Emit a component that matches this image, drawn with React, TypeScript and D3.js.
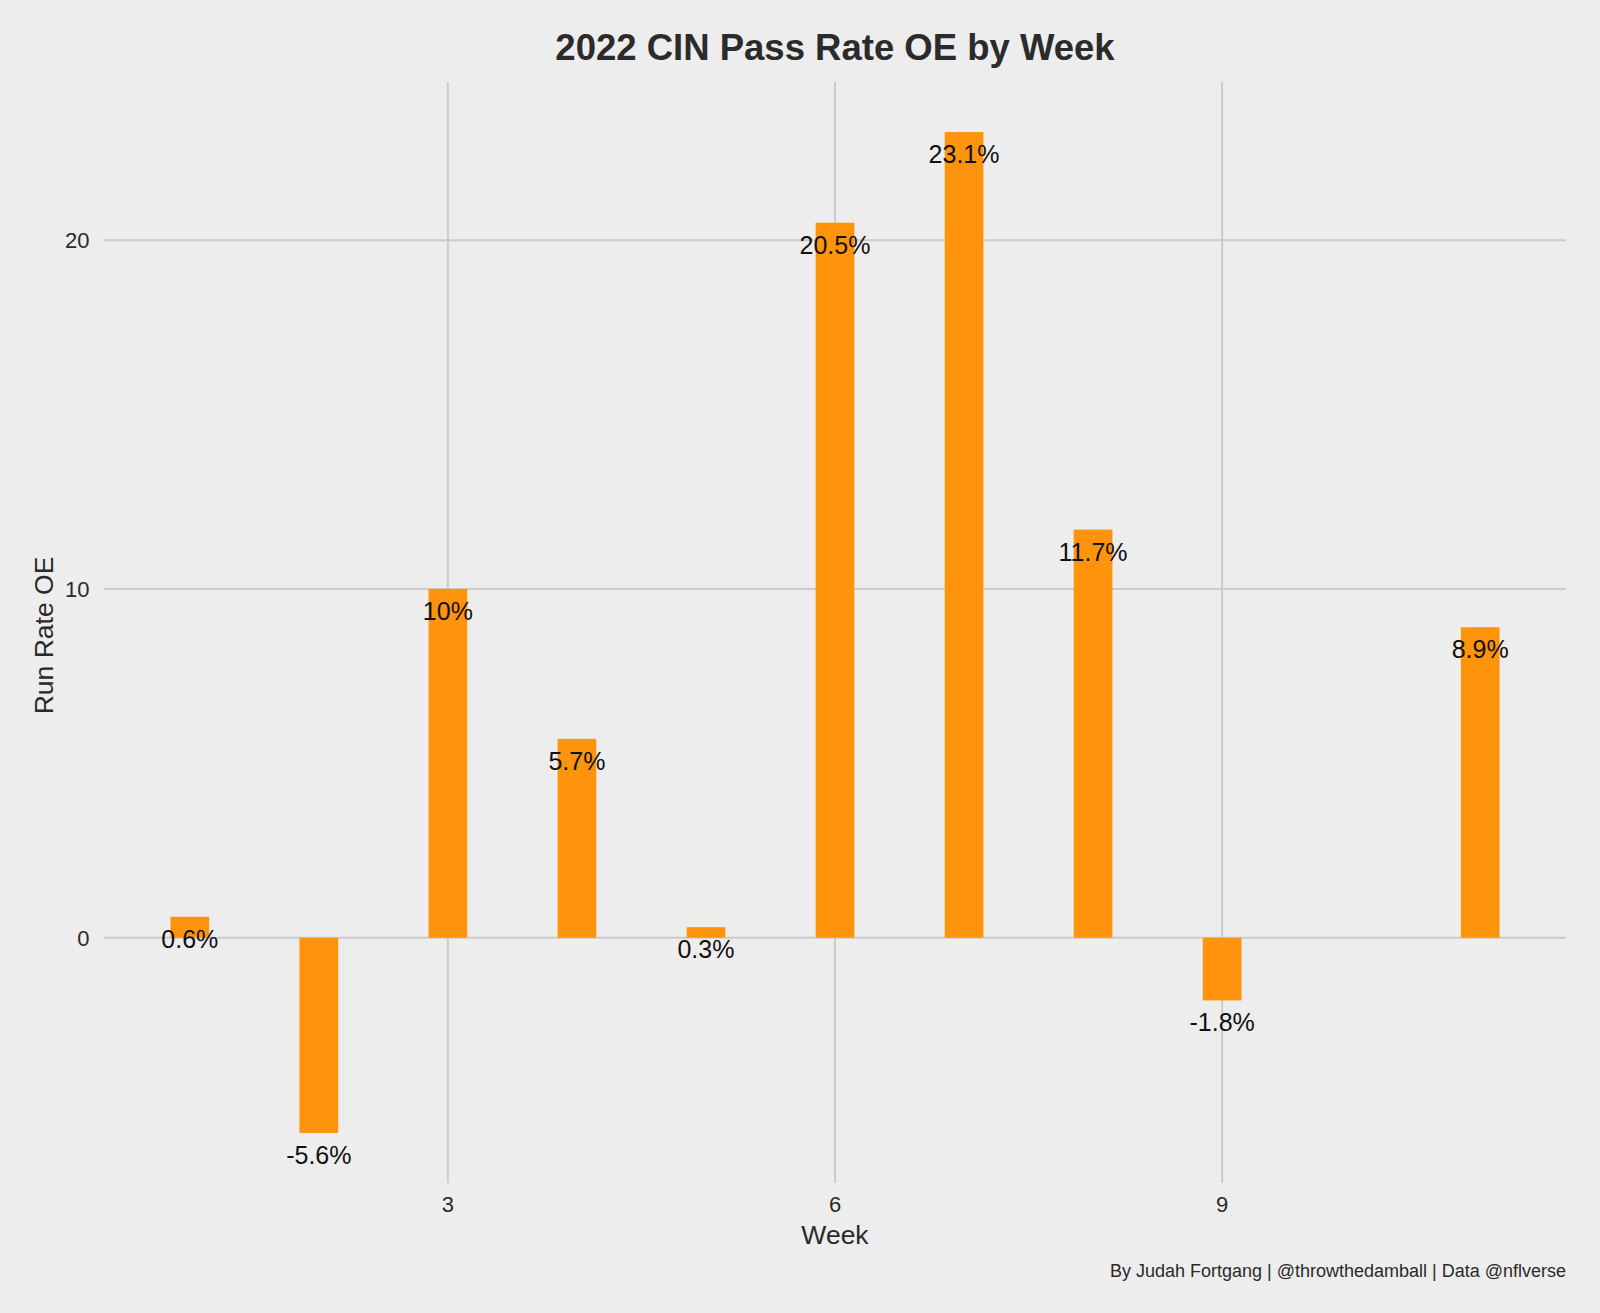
import * as d3 from "d3";

const weeks = [1, 2, 3, 4, 5, 6, 7, 8, 9, 11];
const passRateOE = [0.6, -5.6, 10, 5.7, 0.3, 20.5, 23.1, 11.7, -1.8, 8.9];
const xTicks = [3, 6, 9];
const yTicks = [0, 10, 20];

const W = 1600;
const H = 1313;
const panel = { left: 104, right: 1566, top: 82, bottom: 1183 };
const barWidth = 0.3;
const font = "'Liberation Sans', Arial, Helvetica, sans-serif";

export default function App() {
  // ggplot-like 5% expansion around the data extent
  const xMin = d3.min(weeks)! - barWidth / 2;
  const xMax = d3.max(weeks)! + barWidth / 2;
  const xPad = (xMax - xMin) * 0.05;
  const x = d3.scaleLinear().domain([xMin - xPad, xMax + xPad]).range([panel.left, panel.right]);

  const yLo = d3.min(passRateOE)!;
  const yHi = d3.max(passRateOE)!;
  const yPad = (yHi - yLo) * 0.05;
  const y = d3.scaleLinear().domain([yLo - yPad, yHi + yPad]).range([panel.bottom, panel.top]);

  const bw = x(1 + barWidth) - x(1);
  const cx = (panel.left + panel.right) / 2;
  const cy = (panel.top + panel.bottom) / 2;

  return (
    <svg width={W} height={H} style={{ position: "absolute", left: 0, top: 0 }} fontFamily={font}>
      <rect width={W} height={H} fill="#EDEDED" />

      {/* grid */}
      {yTicks.map((t) => (
        <line key={"gy" + t} x1={panel.left} x2={panel.right} y1={y(t)} y2={y(t)} stroke="#CBCBCB" strokeWidth={2} />
      ))}
      {xTicks.map((t) => (
        <line key={"gx" + t} x1={x(t)} x2={x(t)} y1={panel.top} y2={panel.bottom} stroke="#CBCBCB" strokeWidth={2} />
      ))}

      {/* bars */}
      {weeks.map((w, i) => {
        const v = passRateOE[i];
        return (
          <rect
            key={"b" + w}
            x={x(w) - bw / 2}
            width={bw}
            y={Math.min(y(v), y(0))}
            height={Math.abs(y(v) - y(0))}
            fill="#FE940B"
          />
        );
      })}

      {/* value labels */}
      {weeks.map((w, i) => {
        const v = passRateOE[i];
        return (
          <text key={"l" + w} x={x(w)} y={y(v) + 31} textAnchor="middle" fontSize={25} fill="#111">
            {`${v}%`}
          </text>
        );
      })}

      {/* axis tick labels */}
      {yTicks.map((t) => (
        <text key={"ty" + t} x={89.5} y={y(t)} dy="0.36em" textAnchor="end" fontSize={22} fill="#2a2a2a">
          {t}
        </text>
      ))}
      {xTicks.map((t) => (
        <text key={"tx" + t} x={x(t)} y={1212} textAnchor="middle" fontSize={22} fill="#2a2a2a">
          {t}
        </text>
      ))}

      {/* axis titles */}
      <text x={cx} y={1244} textAnchor="middle" fontSize={26.5} fill="#2a2a2a">
        Week
      </text>
      <text transform={`translate(53, ${cy + 3}) rotate(-90)`} textAnchor="middle" fontSize={26.5} fill="#2a2a2a">
        Run Rate OE
      </text>

      {/* title */}
      <text x={cx} y={60} textAnchor="middle" fontSize={36.5} fontWeight="bold" fill="#2b2b2b">
        2022 CIN Pass Rate OE by Week
      </text>

      {/* caption */}
      <text x={panel.right} y={1277} textAnchor="end" fontSize={18} fill="#2a2a2a">
        By Judah Fortgang | @throwthedamball | Data @nflverse
      </text>
    </svg>
  );
}
